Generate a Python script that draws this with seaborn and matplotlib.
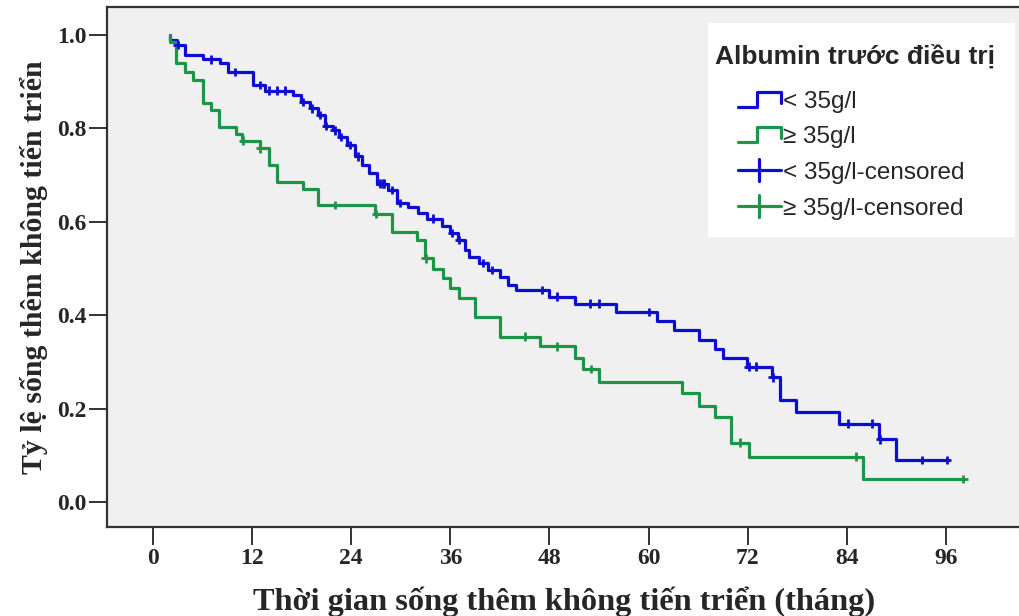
import numpy as np
import pandas as pd
import matplotlib
matplotlib.use("Agg")
import matplotlib.pyplot as plt
import seaborn as sns
from matplotlib.legend_handler import HandlerBase
from matplotlib.lines import Line2D
from matplotlib.patches import Rectangle

# ---------------- data ----------------
groups = ["< 35g/l", "≥ 35g/l"]
legend_title = "Albumin trước điều trị"
x_label = "Thời gian sống thêm không tiến triển (tháng)"
y_label = "Tỷ lệ sống thêm không tiến triển"
x_ticks = [0, 12, 24, 36, 48, 60, 72, 84, 96]
y_ticks = [0.0, 0.2, 0.4, 0.6, 0.8, 1.0]

# group "< 35g/l": event times and survival after each event
low_t = [2.0, 2.1, 2.9, 3.9, 6.0, 8.1, 9.1, 12.1, 13.5, 17.0, 17.9, 19.0, 20.0,
         20.8, 21.8, 22.5, 23.5, 24.5, 25.3, 26.1, 27.1, 28.5, 29.5, 30.9, 32.1,
         33.2, 35.0, 36.0, 36.9, 37.8, 38.3, 39.5, 40.6, 42.0, 43.0, 43.9, 47.9,
         51.1, 56.1, 61.0, 63.1, 66.1, 68.0, 69.0, 71.9, 74.9, 75.9, 77.9, 83.0,
         87.9, 90.0]
low_s = [1.0, 0.990, 0.979, 0.957, 0.948, 0.939, 0.921, 0.893, 0.881, 0.872, 0.857,
         0.843, 0.829, 0.805, 0.796, 0.782, 0.764, 0.740, 0.722, 0.704, 0.682, 0.668,
         0.640, 0.632, 0.619, 0.607, 0.590, 0.576, 0.561, 0.540, 0.525, 0.512, 0.497,
         0.482, 0.465, 0.454, 0.440, 0.425, 0.407, 0.388, 0.368, 0.347, 0.328, 0.308,
         0.290, 0.267, 0.218, 0.193, 0.168, 0.134, 0.090]
low_censor = [3.0, 7.0, 9.9, 12.9, 14.0, 15.0, 16.0, 18.2, 19.3, 20.2, 21.0, 22.0,
              22.8, 23.8, 24.8, 27.5, 27.8, 28.0, 28.9, 29.9, 33.9, 36.2, 37.1, 39.9,
              41.0, 47.1, 48.9, 52.9, 54.0, 60.0, 72.1, 73.0, 75.0, 84.1, 87.1, 88.0,
              93.1, 96.1]

# group "≥ 35g/l"
high_t = [2.0, 2.1, 2.8, 3.9, 4.9, 6.0, 7.0, 8.0, 10.0, 10.8, 12.9, 14.0, 15.0,
          18.1, 20.0, 26.9, 28.9, 32.0, 32.9, 33.9, 35.1, 36.0, 37.0, 39.0, 42.0,
          46.9, 51.1, 52.1, 54.0, 64.0, 66.1, 68.0, 70.0, 72.2, 86.0]
high_s = [1.0, 0.985, 0.939, 0.921, 0.904, 0.855, 0.839, 0.804, 0.789, 0.774, 0.757,
          0.722, 0.685, 0.670, 0.636, 0.617, 0.579, 0.561, 0.522, 0.500, 0.479, 0.458,
          0.436, 0.397, 0.354, 0.333, 0.308, 0.285, 0.258, 0.233, 0.206, 0.183, 0.127,
          0.097, 0.049]
high_censor = [10.9, 13.0, 22.0, 27.0, 33.0, 45.0, 48.9, 53.0, 71.1, 85.1, 98.1]

colors = {"< 35g/l": "#0c0cd2", "≥ 35g/l": "#1c9646"}


def build(group, t, s, c):
    xs = list(t) + [max(c[-1], t[-1])]
    ys = list(s) + [s[-1]]
    line = pd.DataFrame({"time": xs, "surv": ys, "group": group})
    idx = np.searchsorted(np.array(t), np.array(c), side="right") - 1
    cens = pd.DataFrame({"time": c, "surv": np.array(s)[idx], "group": group})
    return line, cens


l1, c1 = build(groups[0], low_t, low_s, low_censor)
l2, c2 = build(groups[1], high_t, high_s, high_censor)
lines = pd.concat([l1, l2], ignore_index=True)
cens = pd.concat([c1, c2], ignore_index=True)

# ---------------- figure ----------------
sns.set_style("white")
plt.rcParams["font.family"] = ["Liberation Serif", "DejaVu Serif"]

W, H = 1019, 616
fig = plt.figure(figsize=(W / 100, H / 100), dpi=100)
ax = fig.add_axes([107 / W, 1 - 527 / H, (1022 - 107) / W, (527 - 7) / H])
ax.set_facecolor("#f0f0f0")

sns.lineplot(data=lines, x="time", y="surv", hue="group", palette=colors,
             estimator=None, sort=False, drawstyle="steps-post", linewidth=2.3,
             legend=False, ax=ax)
sns.scatterplot(data=cens, x="time", y="surv", hue="group", palette=colors,
                marker="+", s=38, linewidth=2.0, legend=False, ax=ax, zorder=5)

ax.set_xlim((107 - 153) / 8.26, (1022 - 153) / 8.26)
ax.set_ylim((502 - 527) / 467, (502 - 7) / 467)
ax.set_xticks(x_ticks)
ax.set_yticks(y_ticks)
ax.set_yticklabels([f"{v:.1f}" for v in y_ticks])
ax.tick_params(axis="both", direction="out", length=13, width=1.4, color="#333333",
               labelsize=17, pad=2, left=True, bottom=True)
for lab in ax.get_xticklabels() + ax.get_yticklabels():
    lab.set_fontweight("bold")
for side in ["left", "bottom", "top"]:
    ax.spines[side].set_color("#333333")
    ax.spines[side].set_linewidth(1.6)
ax.spines["right"].set_visible(False)

ax.set_xlabel(x_label, fontsize=23.3, fontweight="bold", labelpad=13)
ax.set_ylabel(y_label, fontsize=21.5, fontweight="bold", labelpad=6)


# ---------------- legend ----------------
class StepHandler(HandlerBase):
    def create_artists(self, legend, orig_handle, xdescent, ydescent, width, height,
                       fontsize, trans):
        x0 = -xdescent + width * 0.35
        w = width * 0.65
        y0 = -ydescent
        xs = [x0, x0 + 0.45 * w, x0 + 0.45 * w, x0 + w, x0 + w]
        ys = [y0 + 0.05 * height, y0 + 0.05 * height, y0 + 0.95 * height,
              y0 + 0.95 * height, y0 + 0.3 * height]
        return [Line2D(xs, ys, color=orig_handle.get_color(), lw=2.3, transform=trans)]


class CensorHandler(HandlerBase):
    def create_artists(self, legend, orig_handle, xdescent, ydescent, width, height,
                       fontsize, trans):
        x0 = -xdescent + width * 0.35
        w = width * 0.65
        y0 = -ydescent
        h = Line2D([x0, x0 + w], [y0 + 0.5 * height] * 2, color=orig_handle.get_color(),
                   lw=2.3, transform=trans)
        v = Line2D([x0 + 0.5 * w] * 2, [y0 - 0.15 * height, y0 + 1.15 * height],
                   color=orig_handle.get_color(), lw=2.3, transform=trans)
        return [h, v]


# white legend panel
ax.add_patch(Rectangle((708 / W, 1 - 237 / H), (1015 - 708) / W, (237 - 23) / H,
                       transform=fig.transFigure, facecolor="white",
                       edgecolor="none", zorder=3))

handles, labels, hmap = [], [], {}
for g in groups:
    hd = Line2D([], [], color=colors[g])
    handles.append(hd); labels.append(g); hmap[hd] = StepHandler()
for g in groups:
    hd = Line2D([], [], color=colors[g])
    handles.append(hd); labels.append(g + "-censored"); hmap[hd] = CensorHandler()

leg = ax.legend(handles, labels, handler_map=hmap, title=legend_title,
                loc="upper left", bbox_to_anchor=(715 / W, 1 - 44 / H),
                bbox_transform=fig.transFigure, borderaxespad=0, alignment="left",
                prop={"family": "Liberation Sans", "size": 17.5},
                handlelength=2.7, handletextpad=0.1, labelspacing=0.56,
                borderpad=0, frameon=False)
leg.get_title().set_fontfamily("Liberation Sans")
leg.get_title().set_fontweight("bold")
leg.get_title().set_fontsize(19)
leg._legend_box.sep = 16
leg.set_zorder(6)

fig.savefig("out.png", dpi=100)
